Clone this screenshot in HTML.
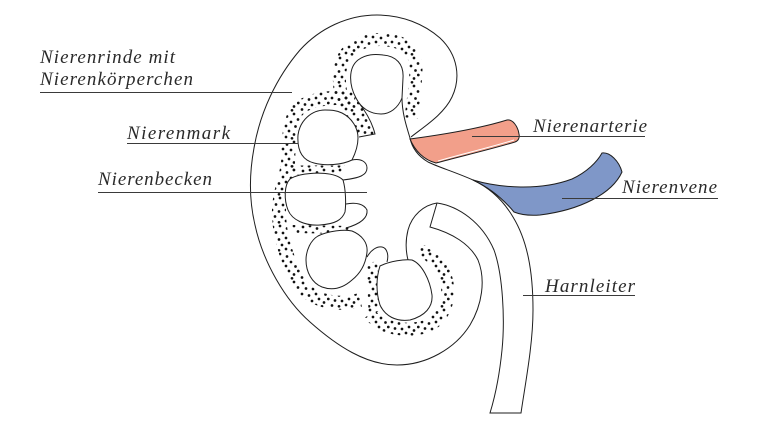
<!DOCTYPE html>
<html>
<head>
<meta charset="utf-8">
<style>
html,body{margin:0;padding:0;background:#fff;}
svg{display:block;}
</style>
</head>
<body>
<svg width="770" height="434" viewBox="0 0 770 434" xmlns="http://www.w3.org/2000/svg">
<defs>
<pattern id="d" width="30" height="28" patternUnits="userSpaceOnUse">
<g fill="#111">
<circle cx="3" cy="3" r="1.35"/><circle cx="10" cy="2" r="1.35"/><circle cx="17" cy="4.5" r="1.35"/><circle cx="24" cy="2" r="1.35"/>
<circle cx="28" cy="7.5" r="1.35"/><circle cx="6" cy="8.5" r="1.35"/><circle cx="13" cy="9" r="1.35"/><circle cx="21" cy="10" r="1.35"/>
<circle cx="2" cy="14" r="1.35"/><circle cx="9" cy="15.5" r="1.35"/><circle cx="16" cy="14" r="1.35"/><circle cx="25.5" cy="14.5" r="1.35"/>
<circle cx="5" cy="20.5" r="1.35"/><circle cx="12" cy="21" r="1.35"/><circle cx="19" cy="19" r="1.35"/><circle cx="24" cy="22.5" r="1.35"/>
<circle cx="28.3" cy="19" r="1.35"/><circle cx="2" cy="25.5" r="1.35"/><circle cx="9" cy="26.3" r="1.35"/><circle cx="16" cy="25" r="1.35"/><circle cx="22" cy="26.3" r="1.35"/>
</g>
</pattern>
</defs>
<rect width="770" height="434" fill="#fff"/>

<!-- stipple bands -->
<g fill="none" stroke="url(#d)">
<path d="M345,105 C338,90 337,70 345,55 C355,42 372,38 388,40 C405,42 416,52 416,68 C416,85 413,100 411,118" stroke-width="13"/>
<path d="M355,100 C330,95 305,100 296,112 C288,125 289,145 288,163 C286,180 278,195 279,215 C280,245 292,272 305,290 C318,302 340,306 360,300" stroke-width="14"/>
<path d="M290,170 L345,170" stroke-width="9"/>
<path d="M292,229 L352,230" stroke-width="8"/>
<path d="M372,262 L374,312" stroke-width="11"/>
<path d="M370,314 C380,328 405,333 428,326 C444,318 450,300 447,283 C444,266 432,254 418,250" stroke-width="13"/>
</g>
<path d="M343,95 L358,102 L366,112 L375,134 L360,137 L352,125 L342,113 Z" fill="url(#d)"/>

<!-- kidney outline -->
<g fill="none" stroke="#1e1e1e" stroke-width="1">
<path d="M411,137 C425,126 444,114 452,97 C461,78 458,55 440,38 C424,24 402,15 377,15 C348,15 320,28 300,50 C276,78 260,113 254,148 C249,175 249,200 255,225 C263,262 285,300 310,322 C337,346 366,365 397,365 C426,365 455,349 470,325 C482,305 486,280 478,260 C470,244 452,233 430,227 L437,203"/>
<path d="M437,203 C458,206 482,222 494,250 C503,275 505,320 502,350 C499,380 494,400 490,413 L521,413 C525,385 533,345 533,310 C533,270 527,240 513,217 C503,200 490,188 473,180 C455,172 438,167 428,162 C418,156 412,148 410,138 C406,125 402,112 402,98"/>
<path d="M437,203 C424,205 412,215 408,230 C405,242 406,252 408,260"/>
<path d="M359,103 C366,112 372,122 375,134 L359,137"/>
</g>

<!-- pyramids -->
<g fill="#fff" stroke="#1e1e1e" stroke-width="1">
<path d="M356,98 C349,85 348,68 358,60 C366,54 375,54 383,55 C396,56 404,64 403,78 L402,98 C398,108 390,114 381,114 C370,114 361,108 356,98 Z"/>
<path d="M325,110 C312,110 300,120 298,135 C297,150 302,160 314,163 C325,166 342,165 352,160 C356,152 358,145 358,138 C358,128 352,118 342,113 C336,110 330,110 325,110 Z"/>
<path d="M300,175 C315,172 335,172 343,180 C346,190 346,205 345,212 C342,220 335,224 320,225 C305,226 292,220 288,210 C284,200 284,185 290,179 C293,177 296,176 300,175 Z"/>
<path d="M318,236 C328,231 345,229 352,231 C362,235 368,243 367,252 C366,262 362,272 352,280 C343,288 333,291 322,287 C312,283 306,272 306,260 C306,250 311,240 318,236 Z"/>
<path d="M380,266 C390,261 405,259 412,260 C422,264 430,280 432,295 C433,307 425,316 410,320 C396,322 385,316 380,305 C376,293 376,278 380,266 Z"/>
</g>
<g fill="none" stroke="#1e1e1e" stroke-width="1">
<path d="M352,160 C361,158 367,162 367,168 C367,175 360,178 343,180"/>
<path d="M346,204 C356,202 364,204 367,210 C368,218 360,224 346,228"/>
<path d="M367,257 C371,250 377,246 382,247 C387,248 389,255 387,262"/>
</g>

<!-- artery -->
<path d="M410,139 C440,135 478,129 507,120 C513,119 518,127 519,134 C520,138 518,141 515,142 C492,149 462,156 436,163 C424,160 415,151 410,139 Z" fill="#f29f8a" stroke="#1e1e1e" stroke-width="1"/>
<path d="M438,161 C462,154 492,147 514,140" fill="none" stroke="#fff" stroke-width="1"/>

<!-- vein -->
<path d="M473,180 C500,188 540,191 572,179 C587,172 597,162 602,153 C610,152 619,161 622,172 C612,194 580,210 540,215 C528,216 519,214 514,212 C504,200 490,188 473,180 Z" fill="#7f97c8" stroke="#1e1e1e" stroke-width="1"/>

<!-- leader lines -->
<g stroke="#3a3a3a" stroke-width="1.1">
<line x1="40" y1="92.5" x2="292" y2="92.5"/>
<line x1="127" y1="143.5" x2="298" y2="143.5"/>
<line x1="98" y1="192.5" x2="367" y2="192.5"/>
<line x1="472" y1="136.5" x2="645" y2="136.5"/>
<line x1="562" y1="198.5" x2="718" y2="198.5"/>
<line x1="523" y1="295.5" x2="635" y2="295.5"/>
</g>

<!-- labels -->
<g font-family="'Liberation Serif', 'DejaVu Serif', serif" font-style="italic" font-weight="normal" font-size="19" fill="#2a2a2a">
<text x="40" y="63" textLength="135" lengthAdjust="spacing">Nierenrinde mit</text>
<text x="40" y="85" textLength="153" lengthAdjust="spacing">Nierenkörperchen</text>
<text x="127" y="139" textLength="103" lengthAdjust="spacing">Nierenmark</text>
<text x="98" y="185" textLength="114" lengthAdjust="spacing">Nierenbecken</text>
<text x="533" y="132" textLength="114" lengthAdjust="spacing">Nierenarterie</text>
<text x="622" y="193" textLength="95" lengthAdjust="spacing">Nierenvene</text>
<text x="545" y="292" textLength="90" lengthAdjust="spacing">Harnleiter</text>
</g>
</svg>
</body>
</html>
